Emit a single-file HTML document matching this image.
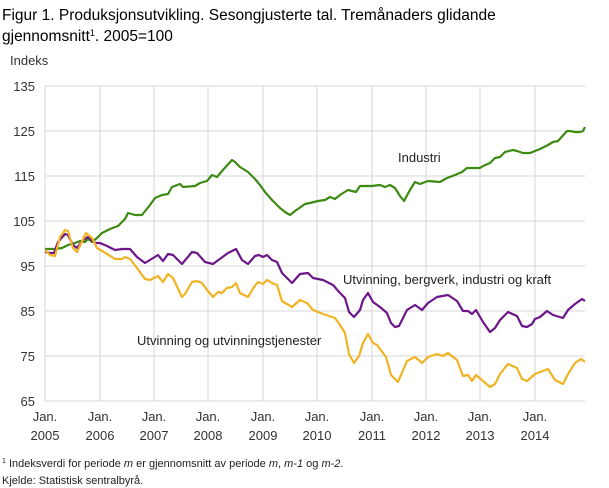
<!DOCTYPE html>
<html><head><meta charset="utf-8"><style>
body{margin:0;background:#fff;}
svg{display:block;font-family:"Liberation Sans","DejaVu Sans",sans-serif;}
</style></head><body>
<svg width="609" height="488" viewBox="0 0 609 488" xmlns="http://www.w3.org/2000/svg">
<text x="2" y="20" font-size="15.5" fill="#000">Figur 1. Produksjonsutvikling. Sesongjusterte tal. Tremånaders glidande</text>
<text x="2" y="41" font-size="15.5" fill="#000">gjennomsnitt<tspan font-size="9" dy="-5">1</tspan><tspan dy="5">. 2005=100</tspan></text>
<text x="10" y="65" font-size="13" fill="#333">Indeks</text>
<g stroke="#d6d6d6" stroke-width="1">
<line x1="45" x2="585" y1="86" y2="86"/><line x1="45" x2="585" y1="131" y2="131"/><line x1="45" x2="585" y1="176" y2="176"/><line x1="45" x2="585" y1="221" y2="221"/><line x1="45" x2="585" y1="266" y2="266"/><line x1="45" x2="585" y1="311" y2="311"/><line x1="45" x2="585" y1="356" y2="356"/><line x1="45" x2="585" y1="401" y2="401"/>
<line x1="45" x2="45" y1="86" y2="401"/><line x1="100" x2="100" y1="86" y2="401"/><line x1="154" x2="154" y1="86" y2="401"/><line x1="208" x2="208" y1="86" y2="401"/><line x1="263" x2="263" y1="86" y2="401"/><line x1="317" x2="317" y1="86" y2="401"/><line x1="372" x2="372" y1="86" y2="401"/><line x1="426" x2="426" y1="86" y2="401"/><line x1="480" x2="480" y1="86" y2="401"/><line x1="535" x2="535" y1="86" y2="401"/>
</g>
<g font-size="13" fill="#333" text-anchor="end">
<text x="35" y="91">135</text><text x="35" y="136">125</text><text x="35" y="181">115</text><text x="35" y="226">105</text><text x="35" y="271">95</text><text x="35" y="316">85</text><text x="35" y="361">75</text><text x="35" y="406">65</text>
</g>
<g font-size="13" fill="#333" text-anchor="middle">
<text x="45" y="421">Jan.</text><text x="45" y="440">2005</text>
<text x="100" y="421">Jan.</text><text x="100" y="440">2006</text>
<text x="154" y="421">Jan.</text><text x="154" y="440">2007</text>
<text x="208" y="421">Jan.</text><text x="208" y="440">2008</text>
<text x="263" y="421">Jan.</text><text x="263" y="440">2009</text>
<text x="317" y="421">Jan.</text><text x="317" y="440">2010</text>
<text x="372" y="421">Jan.</text><text x="372" y="440">2011</text>
<text x="426" y="421">Jan.</text><text x="426" y="440">2012</text>
<text x="480" y="421">Jan.</text><text x="480" y="440">2013</text>
<text x="535" y="421">Jan.</text><text x="535" y="440">2014</text>
</g>
<g fill="none" stroke-width="2.2" stroke-linejoin="round">
<polyline stroke="#3d8a12" points="45,249 55,249 62,248 68,245 75,243 80,241 85,242 88,239 92,242 97,238 102,233 110,229 118,226 125,219 128,213 135,215 142,215 150,205 155,198 162,195 168,194 172,187 180,184 183,187 195,186 200,183 207,181 212,175 217,177 222,171 232,160 235,162 240,167 248,172 255,179 260,185 265,192 272,200 280,208 285,212 290,215 295,211 305,204 310,203 318,201 325,200 330,197 335,199 340,195 348,190 356,192 360,186 372,186 380,185 385,187 390,185 395,188 400,196 404,201 410,190 415,182 420,184 428,181 440,182 447,178 455,175 462,172 467,168 480,168 483,166 490,163 495,158 500,157 505,152 513,150 517,151 523,153 530,153 540,149 548,145 553,142 558,141 567,131 570,131 575,132 580,132 583,131 585,127"/>
<polyline stroke="#6c1689" points="45,252 50,253 54,253 58,242 65,234 68,235 73,245 77,248 83,240 88,237 95,243 100,243 107,246 115,250 122,249 130,249 137,257 145,263 158,255 163,261 168,254 173,255 182,264 192,252 197,253 205,262 213,264 228,253 236,249 242,260 248,264 255,256 259,255 263,257 267,255 272,260 277,262 282,273 292,283 300,274 308,273 313,278 323,280 333,285 340,293 345,298 349,312 354,317 360,310 363,300 368,293 373,302 380,307 387,313 391,323 395,327 399,326 407,310 415,305 422,310 428,303 437,297 448,295 457,301 463,311 468,311 472,314 476,310 483,322 490,332 495,328 500,320 508,312 517,316 522,326 527,327 532,324 535,319 540,317 547,311 553,315 563,318 568,310 575,304 582,299 585,301"/>
<polyline stroke="#f0b323" points="45,250 50,255 55,256 60,237 65,230 68,231 73,248 77,252 86,233 92,238 97,248 102,251 107,254 115,259 122,259 125,257 130,259 137,268 145,279 150,280 158,276 163,282 168,274 173,278 182,297 185,294 192,282 197,281 202,283 207,290 213,297 218,292 222,293 227,288 232,287 236,283 240,293 248,297 254,287 258,282 263,284 267,280 272,283 277,285 282,301 292,307 300,300 307,303 313,310 323,314 335,318 340,325 345,333 349,354 354,363 359,356 363,343 368,334 373,343 377,345 386,357 391,375 398,382 407,361 415,357 422,363 428,357 437,354 443,356 448,353 457,360 463,376 468,375 472,381 476,375 483,381 490,387 495,384 500,374 508,364 517,368 522,379 527,381 535,374 548,369 555,380 563,384 568,374 575,363 581,359 585,362"/>
</g>
<g font-size="13" fill="#222">
<text x="398" y="162">Industri</text>
<text x="343" y="284">Utvinning, bergverk, industri og kraft</text>
<text x="137" y="345">Utvinning og utvinningstjenester</text>
</g>
<text x="2" y="467" font-size="11" fill="#222"><tspan font-size="7" dy="-4">1</tspan><tspan dy="4"> Indeksverdi for periode </tspan><tspan font-style="italic">m</tspan> er gjennomsnitt av periode <tspan font-style="italic">m</tspan>, <tspan font-style="italic">m-1</tspan> og <tspan font-style="italic">m-2</tspan>.</text>
<text x="2" y="484" font-size="11" fill="#222">Kjelde: Statistisk sentralbyrå.</text>
</svg>
</body></html>
